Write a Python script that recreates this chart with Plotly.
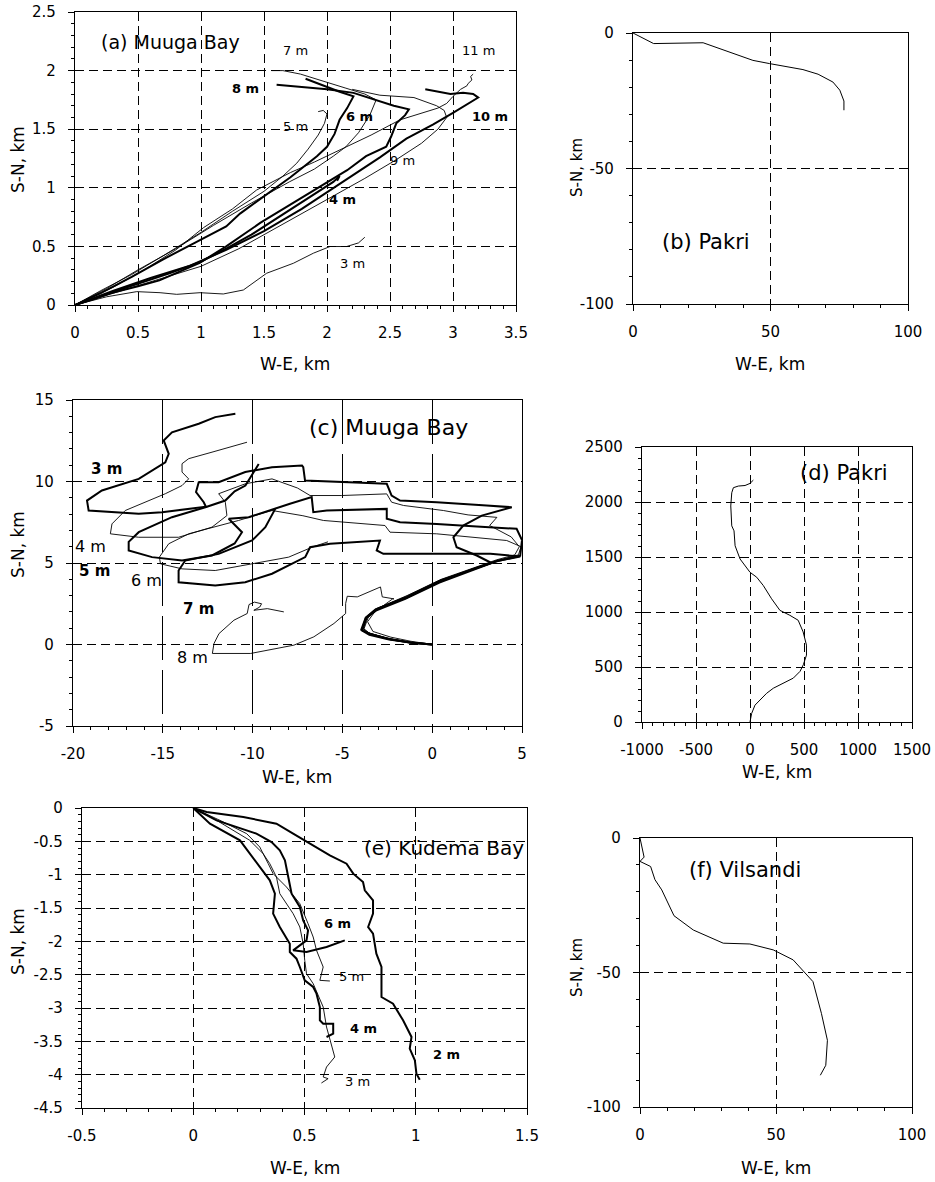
import numpy as np
import plotly.graph_objects as go

W, H = 935, 1182
FONT = "DejaVu Sans"

# ---------------- Panel (a) Muuga Bay, short drift (km) ----------------
a3_x = [0, 0.25, 0.49, 0.675, 0.807, 0.992, 1.177, 1.336, 1.521, 1.733, 1.892, 2.024, 2.156, 2.25, 2.30]
a3_y = [0, 0.07, 0.114, 0.105, 0.091, 0.105, 0.094, 0.128, 0.271, 0.356, 0.442, 0.499, 0.499, 0.53, 0.578]
a4_x = [0, 0.15, 0.3, 0.5, 0.75, 1.0, 1.2, 1.4, 1.6, 1.8, 1.95, 2.05, 2.1, 2.08]
a4_y = [0, 0.05, 0.11, 0.18, 0.27, 0.37, 0.48, 0.6, 0.74, 0.88, 0.98, 1.05, 1.1, 1.06]
a5_x = [0, 0.2, 0.45, 0.7, 1.0, 1.25, 1.5, 1.65, 1.76, 1.85, 1.93, 1.98, 2.0, 1.97, 1.93]
a5_y = [0, 0.12, 0.26, 0.42, 0.62, 0.8, 0.97, 1.1, 1.21, 1.33, 1.45, 1.55, 1.63, 1.66, 1.65]
a6_x = [0, 0.2, 0.45, 0.7, 0.95, 1.2, 1.31, 1.52, 1.71, 1.92, 2.0, 2.06, 2.1, 2.16, 2.21, 2.1, 1.95, 1.83]
a6_y = [0, 0.1, 0.24, 0.39, 0.53, 0.67, 0.78, 0.94, 1.09, 1.27, 1.35, 1.46, 1.58, 1.68, 1.78, 1.82, 1.88, 1.93]
a7_x = [0, 0.25, 0.5, 0.8, 1.1, 1.4, 1.7, 1.9, 2.05, 2.15, 2.25, 2.34, 2.39, 2.3, 2.15, 2.0, 1.79, 1.65, 1.56]
a7_y = [0, 0.14, 0.3, 0.48, 0.68, 0.87, 1.05, 1.16, 1.27, 1.35, 1.47, 1.62, 1.75, 1.8, 1.85, 1.9, 1.97, 2.0, 2.0]
a8_x = [0, 0.28, 0.5, 0.67, 0.99, 1.2, 1.47, 1.73, 2.0, 2.16, 2.31, 2.47, 2.51, 2.55, 2.62, 2.65, 2.53, 2.35, 2.21, 2.0, 1.8, 1.6]
a8_y = [0, 0.1, 0.16, 0.21, 0.36, 0.5, 0.7, 0.87, 1.04, 1.15, 1.27, 1.35, 1.44, 1.55, 1.62, 1.67, 1.7, 1.76, 1.81, 1.84, 1.86, 1.88]
a9_x = [0, 0.3, 0.6, 1.0, 1.3, 1.6, 2.0, 2.3, 2.55, 2.75, 2.88, 2.95, 2.93, 2.87, 2.69, 2.42, 2.2]
a9_y = [0, 0.1, 0.2, 0.33, 0.48, 0.66, 0.9, 1.08, 1.24, 1.38, 1.5, 1.6, 1.66, 1.70, 1.77, 1.79, 1.84]
a10_x = [0, 0.3, 0.6, 0.9, 1.2, 1.5, 1.8, 2.1, 2.42, 2.63, 2.84, 3.0, 3.13, 3.2, 3.16, 3.08, 2.98, 2.88, 2.78]
a10_y = [0, 0.12, 0.23, 0.33, 0.47, 0.63, 0.82, 1.03, 1.26, 1.42, 1.54, 1.64, 1.72, 1.77, 1.8, 1.81, 1.8, 1.82, 1.84]
a11_x = [0, 0.3, 0.55, 0.8, 1.02, 1.25, 1.44, 1.71, 1.9, 2.1, 2.35, 2.58, 2.75, 2.88, 2.95, 3.0, 3.06, 3.11, 3.12, 3.15, 3.14, 3.16]
a11_y = [0, 0.15, 0.3, 0.47, 0.66, 0.82, 0.98, 1.13, 1.22, 1.32, 1.45, 1.58, 1.64, 1.68, 1.72, 1.78, 1.84, 1.87, 1.89, 1.92, 1.95, 1.97]

# ---------------- Panel (b) Pakri ----------------
b_x = [0, 7.5, 25.5, 43.6, 49.7, 61.8, 67.3, 72.7, 75.2, 76.7, 76.7]
b_y = [0, -3.9, -3.6, -10.1, -11.3, -13.5, -15.2, -18.1, -21.1, -25.1, -28.5]

# ---------------- Panel (c) Muuga Bay, long drift ----------------
c3_x = [0, -1.2, -2.4, -3.5, -3.9, -3.7, -3.1, -1.5, 0.4, 2.4, 3.3, 2.48, 1.36, 1.18, 1.73, 2.76, 4.43, 3.03, 0.25, -1.79, -2.26, -2.53, -5.04, -7.08, -7.18, -7.25, -8.92, -10.41, -11.89, -13.0, -13.15, -12.72, -12.6, -15.04, -16.34, -19.13, -19.22, -18.39, -16.34, -14.86, -14.67, -14.95, -14.49, -13.0, -12.08, -10.96]
c3_y = [0, 0.12, 0.3, 0.6, 0.85, 1.6, 2.1, 2.8, 3.8, 4.6, 5.0, 5.46, 5.97, 6.58, 7.3, 7.91, 8.42, 8.53, 8.73, 8.83, 9.14, 9.86, 9.96, 10.06, 10.88, 10.98, 10.88, 10.58, 9.96, 9.96, 9.35, 8.73, 8.45, 8.12, 8.02, 8.22, 8.83, 9.45, 10.16, 11.18, 11.7, 12.52, 13.02, 13.54, 13.95, 14.15]
c4_x = [0, -1.3, -2.5, -3.55, -3.85, -3.6, -3.0, -1.4, 0.5, 2.5, 3.6, 4.6, 4.85, 4.4, 3.2, 3.6, 2.0, 0.62, -1.6, -2.26, -2.53, -5.04, -6.8, -7.5, -8.92, -10.4, -11.89, -11.52, -11.43, -12.26, -14.12, -16.34, -17.92, -17.83, -17.09, -14.86, -13.93, -13.56, -13.93, -13.93, -13.56, -12.26, -11.33, -10.31]
c4_y = [0, 0.15, 0.38, 0.72, 1.0, 1.75, 2.25, 3.0, 4.0, 4.8, 5.2, 5.5, 6.0, 6.6, 7.3, 7.8, 7.95, 8.22, 8.53, 8.73, 9.24, 9.14, 9.14, 9.6, 10.16, 9.86, 9.25, 8.73, 7.91, 7.2, 6.58, 6.58, 6.79, 7.4, 8.22, 9.25, 9.75, 10.16, 10.58, 11.09, 11.4, 11.8, 12.1, 12.41]
c5_x = [0, -1.1, -2.3, -3.4, -3.95, -3.7, -3.15, -1.5, 0.4, 2.45, 3.6, 4.9, 5.0, 4.7, 2.48, 0.25, -1.79, -2.53, -2.53, -5.87, -6.62, -6.71, -7.92, -8.74, -10.22, -11.33, -10.59, -11.0, -12.26, -13.93, -15.6, -16.9, -16.9, -16.34, -14.49, -12.63, -11.52, -11.0, -10.4, -9.66]
c5_y = [0, 0.1, 0.32, 0.62, 0.9, 1.65, 2.15, 2.85, 3.85, 4.7, 5.1, 5.45, 6.4, 7.1, 7.24, 7.4, 7.5, 7.71, 8.32, 8.22, 8.12, 9.04, 8.63, 8.32, 7.81, 7.71, 6.89, 6.2, 5.46, 5.15, 5.36, 5.77, 6.3, 6.89, 7.81, 8.42, 8.83, 9.4, 9.75, 11.08]
c6_x = [0, -1.25, -2.45, -3.5, -3.8, -3.55, -3.05, -1.45, 0.45, 2.5, 3.6, 4.8, 4.95, 4.15, 0.25, -2.35, -2.63, -6.06, -7.2, -8.92, -10.78, -13.56, -14.67, -15.19, -15.13, -13.93, -12.08, -10.03, -7.99, -6.69, -5.8]
c6_y = [0, 0.13, 0.36, 0.7, 0.95, 1.7, 2.2, 2.95, 3.95, 4.75, 5.15, 5.5, 6.0, 6.38, 6.79, 6.89, 7.3, 7.61, 7.9, 8.22, 7.61, 6.79, 6.18, 5.36, 4.95, 4.64, 4.54, 4.95, 5.36, 5.97, 6.3]
c7_x = [0, -1.2, -2.4, -3.45, -3.9, -3.65, -3.1, -1.4, 0.45, 2.5, 3.6, 4.9, 3.24, -0.12, -2.72, -3.09, -2.91, -5.69, -6.8, -7.07, -8.92, -10.41, -12.08, -14.12, -14.12, -13.75, -11.89, -10.03, -9.29, -8.74]
c7_y = [0, 0.11, 0.33, 0.64, 0.88, 1.66, 2.17, 2.9, 3.92, 4.72, 5.12, 5.4, 5.56, 5.56, 5.56, 5.77, 6.38, 6.18, 5.97, 5.36, 4.34, 3.82, 3.62, 3.82, 4.54, 5.15, 5.56, 6.38, 7.2, 8.32]
c8_x = [0, -1.2, -2.3, -3.3, -3.6, -3.2, -2.2, -2.13, -2.78, -2.88, -4.17, -4.73, -4.82, -4.82, -5.47, -6.59, -7.7, -10.11, -12.24, -12.15, -11.87, -11.04, -10.3, -10.2, -9.9, -9.5, -9.6, -9.93, -9.18, -8.26]
c8_y = [0, 0.2, 0.45, 0.8, 1.4, 2.0, 2.8, 2.8, 2.92, 3.53, 2.92, 2.96, 2.51, 1.9, 1.29, 0.47, -0.04, -0.55, -0.55, 0.06, 0.67, 1.49, 1.9, 2.45, 2.6, 2.5, 2.3, 2.1, 2.2, 2.0]

# ---------------- Panel (d) Pakri, long drift ----------------
d_x = [0, 15, 46, 93, 154, 216, 309, 401, 463, 494, 523, 523, 492, 446, 369, 277, 200, 123, 62, 0, -92, -138, -148, -169, -178, -169, -154, -108, -46, 0, 31]
d_y = [0, 77, 153, 199, 261, 307, 353, 399, 460, 521, 608, 699, 819, 925, 970, 1015, 1120, 1241, 1316, 1361, 1482, 1602, 1738, 1783, 1964, 2084, 2130, 2145, 2150, 2169, 2199]

# ---------------- Panel (e) Küdema Bay ----------------
e2_x = [0, 0.06, 0.225, 0.374, 0.449, 0.539, 0.614, 0.689, 0.719, 0.763, 0.771, 0.808, 0.808, 0.786, 0.808, 0.823, 0.846, 0.846, 0.898, 0.943, 0.981, 0.973, 0.996, 1.003, 1.018]
e2_y = [0, -0.06, -0.135, -0.235, -0.385, -0.56, -0.71, -0.835, -0.985, -1.11, -1.235, -1.385, -1.585, -1.785, -1.885, -2.185, -2.385, -2.835, -2.935, -3.185, -3.435, -3.61, -3.785, -3.985, -4.075]
e3_x = [0, 0.105, 0.254, 0.314, 0.344, 0.374, 0.389, 0.449, 0.479, 0.494, 0.501, 0.509, 0.539, 0.584, 0.599, 0.636, 0.599, 0.584, 0.606, 0.576]
e3_y = [0, -0.185, -0.485, -0.685, -0.835, -1.035, -1.285, -1.585, -1.785, -2.035, -2.285, -2.485, -2.635, -2.985, -3.285, -3.735, -3.885, -4.035, -4.06, -4.125]
e4_x = [0, 0.075, 0.21, 0.299, 0.344, 0.367, 0.359, 0.389, 0.434, 0.434, 0.464, 0.479, 0.501, 0.539, 0.554, 0.569, 0.569, 0.584, 0.629, 0.629, 0.599]
e4_y = [0, -0.235, -0.485, -0.885, -1.085, -1.285, -1.585, -1.785, -2.035, -2.16, -2.26, -2.385, -2.585, -2.685, -2.785, -2.985, -3.185, -3.235, -3.235, -3.385, -3.435]
e5_x = [0, 0.12, 0.24, 0.299, 0.337, 0.359, 0.419, 0.479, 0.516, 0.539, 0.554, 0.584, 0.569, 0.614]
e5_y = [0, -0.185, -0.385, -0.585, -0.835, -0.985, -1.185, -1.435, -1.735, -1.935, -2.135, -2.385, -2.585, -2.595]
e6_x = [0, 0.105, 0.284, 0.352, 0.389, 0.412, 0.427, 0.442, 0.479, 0.494, 0.516, 0.509, 0.479, 0.449, 0.509, 0.599, 0.681]
e6_y = [0, -0.185, -0.385, -0.51, -0.635, -0.785, -1.035, -1.285, -1.485, -1.685, -1.835, -1.985, -2.06, -2.135, -2.16, -2.085, -1.985]

# ---------------- Panel (f) Vilsandi ----------------
f_x = [0, 0.6, 1.5, 0, 3.9, 5.5, 8, 12.5, 19.6, 30.6, 40.4, 49, 56.3, 63.6, 66.7, 68.9, 68.3, 66.3]
f_y = [0, -3.1, -7.1, -8.7, -10.6, -15.5, -19.3, -28.9, -34.2, -39.1, -39.4, -41.6, -45.3, -53.4, -65.2, -75.2, -84.5, -88.2]

# ---------------- tick values ----------------
a_xticks = [0, 0.5, 1, 1.5, 2, 2.5, 3, 3.5]
a_yticks = [0, 0.5, 1, 1.5, 2, 2.5]
b_xticks = [0, 50, 100]
b_yticks = [-100, -50, 0]
c_xticks = [-20, -15, -10, -5, 0, 5]
c_yticks = [-5, 0, 5, 10, 15]
d_xticks = [-1000, -500, 0, 500, 1000, 1500]
d_yticks = [0, 500, 1000, 1500, 2000, 2500]
e_xticks = [-0.5, 0, 0.5, 1, 1.5]
e_yticks = [0, -0.5, -1, -1.5, -2, -2.5, -3, -3.5, -4, -4.5]
f_xticks = [0, 50, 100]
f_yticks = [-100, -50, 0]

THICK, THIN = 2.0, 0.9

fig = go.Figure()

def add(x, y, w, ax):
    fig.add_trace(go.Scatter(x=x, y=y, mode="lines", line=dict(color="black", width=w),
                             xaxis="x" + ax, yaxis="y" + ax, hoverinfo="skip"))

for x, y, w in [(a3_x, a3_y, THIN), (a5_x, a5_y, THIN), (a7_x, a7_y, THIN), (a9_x, a9_y, THIN),
                (a11_x, a11_y, THIN), (a4_x, a4_y, THICK), (a6_x, a6_y, THICK), (a8_x, a8_y, THICK),
                (a10_x, a10_y, THICK)]:
    add(x, y, w, "")
add(b_x, b_y, 1.0, "2")
for x, y, w in [(c4_x, c4_y, THIN), (c6_x, c6_y, THIN), (c8_x, c8_y, THIN),
                (c3_x, c3_y, THICK), (c5_x, c5_y, THICK), (c7_x, c7_y, THICK)]:
    add(x, y, w, "3")
add(d_x, d_y, 1.0, "4")
for x, y, w in [(e3_x, e3_y, THIN), (e5_x, e5_y, THIN), (e2_x, e2_y, THICK),
                (e4_x, e4_y, THICK), (e6_x, e6_y, THICK)]:
    add(x, y, w, "5")
add(f_x, f_y, 1.0, "6")

def fmt(v):
    return f"{v:g}"

def axis(dom, rng, tv, mstep, griddash="9px,5px", anchor=None, xdir=True):
    lo = min(rng)
    d = dict(domain=dom, range=rng, tickmode="array", tickvals=tv, ticktext=[fmt(v) for v in tv],
             automargin=False,
             showgrid=True, gridcolor="black", gridwidth=1, griddash=griddash,
             zeroline=False, showline=True, linecolor="black", linewidth=1.2, mirror=True,
             ticks="outside", ticklen=6, tickcolor="black", tickwidth=1,
             tickfont=dict(family=FONT, size=15, color="black"),
             minor=dict(dtick=mstep, tick0=lo, ticks="outside", ticklen=3,
                        tickcolor="black", tickwidth=1, showgrid=False),
             anchor=anchor, fixedrange=True)
    d["ticklabelstandoff"] = 8 if xdir else 9
    return d

def xd(a, b):
    return [a / W, b / W]

def yd(top, bottom):
    return [1 - bottom / H, 1 - top / H]

layout = dict(width=W, height=H, margin=dict(l=0, r=0, t=0, b=0, pad=0), showlegend=False,
              paper_bgcolor="white", plot_bgcolor="white", template="none",
              font=dict(family=FONT, color="black"))

layout["xaxis"] = axis(xd(75, 516), [0, 3.5], a_xticks, 0.1, anchor="y")
layout["yaxis"] = axis(yd(12, 305), [0, 2.5], a_yticks, 0.1, anchor="x", xdir=False)
layout["xaxis2"] = axis(xd(633, 908), [0, 100], b_xticks, 10, anchor="y2")
layout["yaxis2"] = axis(yd(33, 304), [-100, 0], b_yticks, 10, anchor="x2", xdir=False)
layout["xaxis3"] = axis(xd(73, 522), [-20, 5], c_xticks, 1, griddash="44px,10px", anchor="y3")
layout["yaxis3"] = axis(yd(400, 726), [-5, 15], c_yticks, 1, anchor="x3", xdir=False)
layout["xaxis4"] = axis(xd(642, 912), [-1000, 1500], d_xticks, 100, anchor="y4")
layout["yaxis4"] = axis(yd(447, 722), [0, 2500], d_yticks, 100, anchor="x4", xdir=False)
layout["xaxis5"] = axis(xd(82, 527), [-0.5, 1.5], e_xticks, 0.1, anchor="y5")
layout["yaxis5"] = axis(yd(808, 1108), [-4.5, 0], e_yticks, 0.1, anchor="x5", xdir=False)
layout["xaxis6"] = axis(xd(640, 912), [0, 100], f_xticks, 10, anchor="y6")
layout["yaxis6"] = axis(yd(838, 1107), [-100, 0], f_yticks, 10, anchor="x6", xdir=False)

ann = []

def lab(text, x, y, ax, size=13, bold=False, xanchor="center"):
    ann.append(dict(text=("<b>%s</b>" % text) if bold else text, x=x, y=y,
                    xref="x" + ax, yref="y" + ax, showarrow=False, xanchor=xanchor,
                    yanchor="middle", font=dict(family=FONT, size=size, color="black")))

def ptext(text, px, py, size=17, angle=0):
    ann.append(dict(text=text, x=px / W, y=1 - py / H, xref="paper", yref="paper",
                    showarrow=False, xanchor="center", yanchor="middle", textangle=angle,
                    font=dict(family=FONT, size=size, color="black")))

# panel titles
lab("(a) Muuga Bay", 0.19, 2.24, "", size=19, xanchor="left")
lab("(b) Pakri", 9.8, -77, "2", size=21, xanchor="left")
lab("(c) Muuga Bay", -6.97, 13.3, "3", size=22, xanchor="left")
lab("(d) Pakri", 444, 2264, "4", size=21, xanchor="left")
lab("(e) Küdema Bay", 0.757, -0.6, "5", size=20, xanchor="left")
lab("(f) Vilsandi", 17.2, -11.9, "6", size=21, xanchor="left")

# depth labels, panel a
lab("7 m", 1.75, 2.17, "")
lab("11 m", 3.2, 2.17, "")
lab("8 m", 1.35, 1.85, "", bold=True)
lab("5 m", 1.75, 1.52, "")
lab("6 m", 2.26, 1.61, "", bold=True)
lab("10 m", 3.29, 1.61, "", bold=True)
lab("9 m", 2.6, 1.23, "")
lab("4 m", 2.12, 0.9, "", bold=True)
lab("3 m", 2.2, 0.35, "")
# panel c
lab("3 m", -18.13, 10.78, "3", size=15, bold=True)
lab("4 m", -19.05, 6.03, "3", size=16)
lab("5 m", -18.78, 4.54, "3", size=15, bold=True)
lab("6 m", -15.9, 3.93, "3", size=16)
lab("7 m", -13.02, 2.19, "3", size=15, bold=True)
lab("8 m", -13.36, -0.78, "3", size=16)
# panel e
lab("6 m", 0.649, -1.73, "5", bold=True)
lab("5 m", 0.709, -2.52, "5")
lab("4 m", 0.764, -3.3, "5", bold=True)
lab("2 m", 1.136, -3.7, "5", bold=True)
lab("3 m", 0.739, -4.1, "5")

# axis titles
for px_, py_ in [(295, 364), (770, 364), (297, 777), (777, 772), (305, 1168), (776, 1168)]:
    ptext("W-E, km", px_, py_)
for px_, py_ in [(18, 160), (18, 545), (18, 942)]:
    ptext("S-N, km", px_, py_, angle=-90)
for px_, py_ in [(577, 168), (577, 968)]:
    ptext("S-N, km", px_, py_, size=15, angle=-90)

layout["annotations"] = ann
fig.update_layout(**layout)
fig.write_html("out.html", config={"displayModeBar": False},
               post_script="document.body.style.margin='0';document.body.style.padding='0';"
                           "document.documentElement.style.overflow='hidden';")
